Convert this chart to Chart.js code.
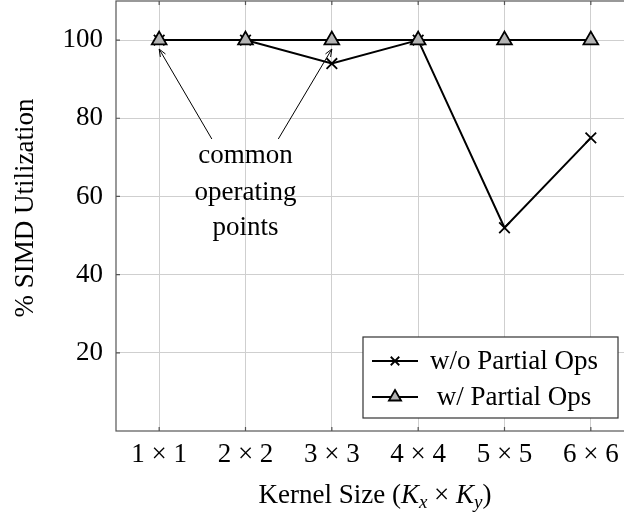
<!DOCTYPE html>
<html>
<head>
<meta charset="utf-8">
<script src="https://cdn.jsdelivr.net/npm/chart.js@4.4.1/dist/chart.umd.min.js"></script>
<style>
  html, body { margin: 0; padding: 0; background: #fff; overflow: hidden; }
  #wrap { position: relative; width: 640px; height: 512px; }
</style>
</head>
<body>
<div id="wrap"><canvas id="util"></canvas></div>
<script>
const kernelSizes = ['1 × 1', '2 × 2', '3 × 3', '4 × 4', '5 × 5', '6 × 6'];
const utilNoPartial = [100, 100, 94, 100, 52, 75];
const utilPartial = [100, 100, 100, 100, 100, 100];
const yTickValues = [20, 40, 60, 80, 100];
const yRange = [0, 110];

// note text rows and arrow ends, in (category index, %) units
const noteLines = ['common', 'operating', 'points'];
const noteRowValues = [70.4, 61, 52];
const noteArrows = [
  { from: [0.61, 74.7], to: [0, 97.7] },
  { from: [1.38, 74.7], to: [2, 97.7] }
];

const serif = '"Liberation Serif", "Times New Roman", serif';
const frameColor = '#555';
const gridColor = '#cfcfcf';

Chart.defaults.font.family = serif;
Chart.defaults.color = '#000';

function arrow(ctx, x1, y1, x2, y2) {
  const a = Math.atan2(y2 - y1, x2 - x1);
  const len = 8, spread = 0.38;
  ctx.beginPath();
  ctx.moveTo(x1, y1);
  ctx.lineTo(x2, y2);
  ctx.moveTo(x2 - len * Math.cos(a - spread), y2 - len * Math.sin(a - spread));
  ctx.lineTo(x2, y2);
  ctx.lineTo(x2 - len * Math.cos(a + spread), y2 - len * Math.sin(a + spread));
  ctx.stroke();
}

const decor = {
  id: 'decor',
  beforeDatasetsDraw(chart) {
    const { ctx, chartArea: a, scales: { x, y } } = chart;
    ctx.save();
    ctx.strokeStyle = frameColor;
    ctx.lineWidth = 1.2;
    ctx.strokeRect(a.left, a.top, a.right - a.left, a.bottom - a.top);
    // short inner tick marks on every side
    ctx.beginPath();
    yTickValues.forEach(v => {
      const py = y.getPixelForValue(v);
      ctx.moveTo(a.left, py); ctx.lineTo(a.left + 4, py);
      ctx.moveTo(a.right, py); ctx.lineTo(a.right - 4, py);
    });
    kernelSizes.forEach((_, i) => {
      const px = x.getPixelForValue(i);
      ctx.moveTo(px, a.bottom); ctx.lineTo(px, a.bottom - 4);
      ctx.moveTo(px, a.top); ctx.lineTo(px, a.top + 4);
    });
    ctx.stroke();

    // annotation
    ctx.strokeStyle = '#000';
    ctx.lineWidth = 1;
    noteArrows.forEach(n => {
      arrow(ctx, x.getPixelForValue(n.from[0]), y.getPixelForValue(n.from[1]),
                 x.getPixelForValue(n.to[0]), y.getPixelForValue(n.to[1]));
    });
    ctx.fillStyle = '#000';
    ctx.font = '27px ' + serif;
    ctx.textAlign = 'center';
    ctx.textBaseline = 'middle';
    noteLines.forEach((t, i) => {
      ctx.fillText(t, x.getPixelForValue(1), y.getPixelForValue(noteRowValues[i]));
    });
    ctx.restore();
  },
  afterDraw(chart) {
    const { ctx, chartArea: a } = chart;
    ctx.save();
    ctx.fillStyle = '#000';

    // legend box
    const bw = 255, bh = 81;
    const bx = a.right - 16 - bw, by = a.bottom - 13 - bh;
    ctx.fillStyle = '#fff';
    ctx.fillRect(bx, by, bw, bh);
    ctx.strokeStyle = '#333';
    ctx.lineWidth = 1.2;
    ctx.strokeRect(bx, by, bw, bh);
    chart.data.datasets.forEach((ds, i) => {
      const ry = by + 24 + i * 36;
      ctx.strokeStyle = '#000';
      ctx.lineWidth = ds.borderWidth;
      ctx.beginPath();
      ctx.moveTo(bx + 9, ry); ctx.lineTo(bx + 55, ry);
      ctx.stroke();
      ctx.fillStyle = ds.pointBackgroundColor || '#000';
      ctx.lineWidth = ds.pointBorderWidth;
      Chart.helpers.drawPoint(ctx, {
        pointStyle: ds.pointStyle, radius: ds.pointRadius - 1.5,
        borderWidth: ds.pointBorderWidth, rotation: 0
      }, bx + 32, ry);
      ctx.fillStyle = '#000';
      ctx.font = '27px ' + serif;
      ctx.textAlign = 'center';
      ctx.textBaseline = 'middle';
      ctx.fillText(ds.label, bx + 151, ry + 1);
    });

    // y title
    ctx.fillStyle = '#000';
    ctx.font = '27px ' + serif;
    ctx.textAlign = 'center';
    ctx.textBaseline = 'alphabetic';
    ctx.save();
    ctx.translate(33, 208);
    ctx.rotate(-Math.PI / 2);
    ctx.fillText('% SIMD Utilization', 0, 0);
    ctx.restore();

    // x title with subscripts
    const parts = [
      { t: 'Kernel Size (', f: '27px ' + serif, dy: 0 },
      { t: 'K', f: 'italic 27px ' + serif, dy: 0 },
      { t: 'x', f: 'italic 19px ' + serif, dy: 5 },
      { t: ' × ', f: '27px ' + serif, dy: 0 },
      { t: 'K', f: 'italic 27px ' + serif, dy: 0 },
      { t: 'y', f: 'italic 19px ' + serif, dy: 5 },
      { t: ')', f: '27px ' + serif, dy: 0 }
    ];
    let total = 0;
    parts.forEach(p => { ctx.font = p.f; p.w = ctx.measureText(p.t).width; total += p.w; });
    let cx = (a.left + a.right) / 2 - total / 2;
    ctx.textAlign = 'left';
    parts.forEach(p => { ctx.font = p.f; ctx.fillText(p.t, cx, 503 + p.dy); cx += p.w; });
    ctx.restore();
  }
};

new Chart(document.getElementById('util'), {
  type: 'line',
  data: {
    labels: kernelSizes,
    datasets: [
      {
        label: 'w/o Partial Ops',
        data: utilNoPartial,
        borderColor: '#000',
        borderWidth: 2,
        pointStyle: 'crossRot',
        pointRadius: 7.5,
        pointBorderWidth: 1.8,
        pointBackgroundColor: '#000',
        pointBorderColor: '#000',
        order: 1
      },
      {
        label: 'w/ Partial Ops',
        data: utilPartial,
        borderColor: '#000',
        borderWidth: 2,
        pointStyle: 'triangle',
        pointRadius: 8.5,
        pointBorderWidth: 1.8,
        pointBackgroundColor: '#b3b3b3',
        pointBorderColor: '#000',
        order: 0
      }
    ]
  },
  options: {
    responsive: true,
    maintainAspectRatio: false,
    animation: false,
    layout: { autoPadding: false, padding: { top: 1, right: 6, left: 0, bottom: 0 } },
    plugins: { legend: { display: false }, tooltip: { enabled: false } },
    scales: {
      x: {
        offset: true,
        grid: { color: gridColor, drawTicks: false, offset: false },
        border: { display: false },
        ticks: { font: { size: 27 }, padding: 8, maxRotation: 0, autoSkip: false, color: '#000' },
        afterFit(s) { s.height = 81; s.paddingLeft = 0; s.paddingRight = 0; }
      },
      y: {
        min: yRange[0],
        max: yRange[1],
        grid: { color: gridColor, drawTicks: false },
        border: { display: false },
        ticks: { font: { size: 27 }, padding: 13, color: '#000' },
        afterBuildTicks(s) { s.ticks = yTickValues.map(v => ({ value: v })); },
        afterFit(s) { s.width = 116; s.paddingTop = 0; s.paddingBottom = 0; }
      }
    }
  },
  plugins: [decor]
});
</script>
</body>
</html>
